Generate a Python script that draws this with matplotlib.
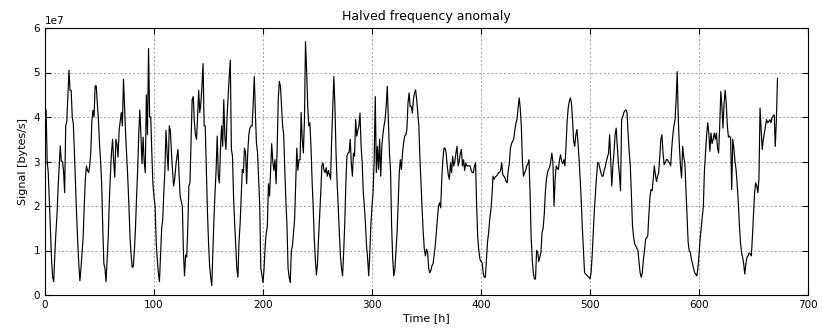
import numpy as np
import matplotlib
matplotlib.use("Agg")
import matplotlib.pyplot as plt

# hourly signal, in units of 1e7 bytes/s
signal_e7 = [
    4.2, 4.15, 3.0, 2.75, 2.1, 1.4, 0.8, 0.4, 0.3, 0.9, 1.4, 1.8, 2.4, 2.9, 3.35, 3.0, 3.0, 2.8, 2.3, 3.8, 3.9, 4.5, 5.05, 4.6,
    4.6, 4.0, 3.85, 3.2, 2.5, 1.8, 1.2, 0.7, 0.32, 0.6, 0.95, 1.3, 2.0, 2.6, 2.9, 2.8, 2.75, 2.9, 3.2, 3.9, 4.15, 4.0, 4.7, 4.7,
    4.3, 3.95, 3.4, 3.0, 2.5, 1.5, 0.7, 0.6, 0.3, 0.8, 1.3, 2.1, 2.7, 3.2, 3.5, 3.0, 2.65, 3.5, 3.4, 3.1, 3.7, 3.9, 4.1, 3.8,
    4.85, 4.2, 3.6, 3.1, 2.6, 2.0, 1.3, 0.9, 0.62, 0.64, 1.0, 1.5, 2.2, 2.8, 3.6, 4.16, 3.6, 2.95, 3.55, 3.0, 2.75, 4.5, 3.6, 5.54,
    4.0, 4.0, 3.2, 2.5, 2.2, 2.0, 1.2, 0.8, 0.5, 0.3, 0.9, 1.48, 1.7, 2.3, 2.8, 3.7, 3.2, 2.8, 3.8, 3.7, 3.2, 2.8, 2.45, 2.6,
    2.9, 3.1, 3.27, 2.7, 2.22, 2.1, 2.0, 0.96, 0.43, 0.9, 0.85, 1.5, 2.45, 2.52, 3.5, 4.39, 4.46, 3.9, 3.6, 3.5, 4.0, 4.6, 4.1, 4.31,
    4.7, 5.2, 3.8, 3.8, 2.8, 1.9, 1.2, 0.66, 0.4, 0.21, 0.96, 1.7, 2.3, 2.82, 3.57, 2.67, 2.52, 3.3, 3.8, 3.34, 4.39, 3.57, 3.27, 4.0,
    4.46, 4.9, 5.28, 3.27, 3.12, 2.2, 1.6, 1.1, 0.6, 0.4, 1.2, 1.6, 2.2, 2.82, 2.75, 3.3, 3.2, 2.5, 3.2, 3.6, 3.75, 3.8, 3.8, 4.3,
    4.91, 4.09, 3.4, 3.2, 2.6, 2.0, 0.6, 0.45, 0.28, 0.6, 1.1, 1.4, 1.55, 2.5, 2.22, 2.82, 3.4, 3.0, 2.8, 3.04, 2.5, 3.3, 4.4, 4.8,
    4.69, 4.24, 3.8, 3.6, 2.8, 2.1, 1.55, 0.6, 0.4, 0.28, 1.0, 1.1, 1.4, 1.7, 2.5, 3.3, 2.8, 3.04, 3.04, 4.1, 3.5, 3.19, 3.9, 5.69,
    5.06, 4.24, 3.8, 3.87, 3.34, 2.6, 2.0, 1.3, 0.81, 0.45, 0.7, 1.3, 1.8, 2.3, 2.9, 2.97, 2.8, 2.75, 2.86, 2.67, 2.8, 2.7, 2.6, 3.5,
    4.24, 4.91, 4.24, 3.19, 2.52, 2.0, 1.4, 0.9, 0.6, 0.43, 0.96, 1.6, 2.5, 3.12, 3.19, 3.2, 3.5, 2.97, 2.67, 3.19, 3.12, 3.94, 3.57, 3.7,
    3.8, 4.09, 3.34, 2.97, 2.3, 2.0, 1.6, 1.1, 0.81, 0.43, 0.96, 1.6, 2.0, 2.3, 3.04, 4.46, 2.75, 3.34, 2.82, 3.5, 2.67, 3.34, 3.6, 3.8,
    3.94, 4.24, 4.69, 3.94, 3.2, 2.8, 1.55, 0.81, 0.43, 0.58, 1.0, 1.4, 2.04, 2.75, 3.04, 2.82, 3.19, 3.42, 3.57, 3.6, 3.72, 4.31, 4.54, 4.24,
    4.24, 4.09, 4.39, 4.54, 4.61, 4.39, 4.1, 3.8, 3.04, 2.5, 1.9, 1.4, 1.03, 0.88, 1.03, 0.96, 0.6, 0.5, 0.55, 0.66, 0.7, 0.9, 1.1, 1.4,
    1.7, 2.0, 2.07, 1.96, 2.6, 3.04, 3.3, 3.3, 3.19, 2.9, 2.7, 2.6, 2.97, 2.75, 3.12, 2.9, 3.0, 3.19, 3.34, 2.9, 3.0, 3.19, 3.27, 2.9,
    3.04, 2.8, 2.97, 2.9, 2.9, 2.9, 2.9, 2.8, 2.75, 2.75, 2.9, 2.97, 2.0, 1.3, 1.0, 0.81, 0.75, 0.73, 0.5, 0.4, 0.4, 0.8, 1.2, 1.4,
    1.7, 1.9, 2.2, 2.67, 2.6, 2.65, 2.67, 2.7, 2.75, 2.75, 2.8, 2.97, 2.7, 2.67, 2.63, 2.55, 2.52, 2.8, 2.95, 3.3, 3.4, 3.45, 3.5, 3.7,
    3.85, 3.95, 4.2, 4.43, 4.2, 3.8, 3.0, 2.67, 2.75, 2.8, 2.9, 2.95, 3.04, 2.3, 1.3, 0.8, 0.5, 0.36, 0.36, 1.0, 0.96, 0.75, 0.85, 0.96,
    1.4, 1.5, 1.8, 2.3, 2.6, 2.75, 2.82, 2.88, 3.0, 3.19, 2.97, 2.0, 2.6, 2.9, 2.85, 2.82, 3.04, 3.15, 3.0, 2.95, 3.04, 2.9, 3.34, 3.9,
    4.2, 4.35, 4.43, 4.31, 3.94, 3.45, 3.34, 3.6, 3.72, 3.42, 3.04, 2.6, 2.1, 1.5, 1.0, 0.5, 0.47, 0.45, 0.42, 0.4, 0.36, 0.5, 0.9, 1.4,
    1.9, 2.3, 2.67, 2.97, 2.97, 2.85, 2.75, 2.67, 2.67, 2.8, 2.88, 3.0, 3.1, 3.19, 3.6, 3.04, 2.45, 2.9, 3.2, 3.6, 3.75, 3.34, 2.97, 2.7,
    2.34, 3.94, 4.0, 4.1, 4.14, 4.16, 4.09, 3.6, 3.2, 2.9, 2.2, 1.55, 1.3, 1.15, 1.1, 1.05, 1.0, 0.73, 0.5, 0.4, 0.5, 0.8, 1.0, 1.25,
    1.29, 1.33, 1.8, 2.2, 2.37, 2.34, 2.6, 2.9, 2.7, 2.55, 2.67, 2.75, 3.1, 3.5, 3.6, 3.19, 2.93, 2.97, 3.04, 3.04, 3.0, 2.97, 2.9, 3.3,
    3.6, 3.8, 3.94, 4.39, 5.02, 3.94, 3.34, 2.9, 2.63, 3.34, 3.1, 2.97, 2.4, 1.8, 1.2, 1.0, 0.96, 0.81, 0.7, 0.6, 0.5, 0.47, 0.43, 0.6,
    0.9, 1.25, 1.5, 1.75, 2.0, 2.8, 3.2, 3.6, 3.87, 3.64, 3.23, 3.64, 3.4, 3.5, 3.64, 3.5, 3.64, 3.3, 3.19, 3.8, 4.57, 4.24, 3.75, 4.31,
    4.6, 4.3, 3.8, 3.55, 3.57, 3.53, 2.37, 3.5, 3.3, 3.0, 2.82, 2.5, 2.1, 1.6, 1.2, 0.96, 0.85, 0.7, 0.47, 0.7, 0.85, 0.88, 0.95, 0.92,
    0.88, 1.3, 1.8, 2.3, 2.52, 2.45, 2.3, 2.6, 4.2, 3.72, 3.27, 3.5, 3.64, 3.8, 3.94, 3.87, 3.9, 3.94, 3.87, 3.98, 4.02, 4.05, 3.34, 3.94,
    4.87,
]

x_ticks = [0, 100, 200, 300, 400, 500, 600, 700]
y_ticks = [0, 1e7, 2e7, 3e7, 4e7, 5e7, 6e7]

signal = np.array(signal_e7) * 1e7
hours = np.arange(len(signal))

fig = plt.figure(figsize=(8.22, 3.35), dpi=100)
ax = fig.add_axes([45 / 822, 1 - 295 / 335, 763 / 822, 267 / 335])

ax.plot(hours, signal, color="black", linewidth=0.85)

ax.set_xlim(0, 700)
ax.set_ylim(0, 6e7)
ax.set_xticks(x_ticks)
ax.set_yticks(y_ticks)
ax.grid(True, linestyle=(0, (2.5, 2.5)), color="0.6", linewidth=0.6)
ax.tick_params(direction="in", top=True, right=True, labelsize=7.5, length=4)
ax.yaxis.get_offset_text().set_fontsize(7.5)
for s in ax.spines.values():
    s.set_linewidth(0.8)

ax.set_title("Halved frequency anomaly", fontsize=9)
ax.set_xlabel("Time [h]", fontsize=8, labelpad=2)
ax.set_ylabel("Signal [bytes/s]", fontsize=8)

fig.savefig("out.png", dpi=100)
